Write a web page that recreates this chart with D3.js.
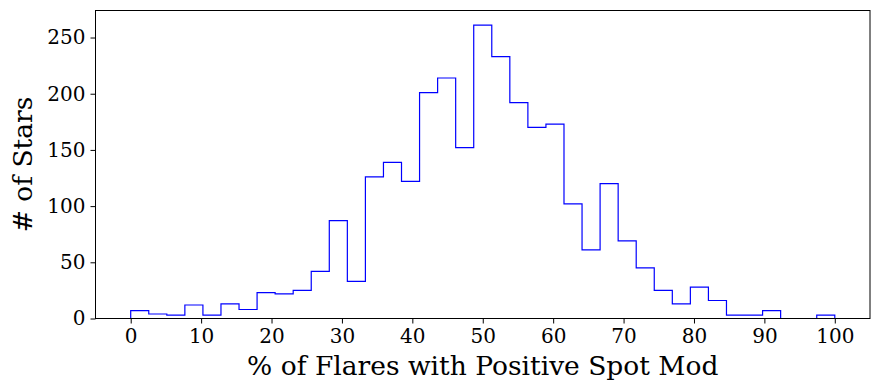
<!DOCTYPE html>
<html><head><meta charset="utf-8">
<script src="https://cdn.jsdelivr.net/npm/d3@7"></script>
<style>body{margin:0;background:#fff}svg{display:block}text{font-family:"DejaVu Serif",serif;fill:#000}</style>
</head><body>
<svg id="c" width="879" height="392"></svg>
<script>
const binStart = 0, binEnd = 100, binCount = 39;
const counts = [7,4,3,12,3,13,8,23,22,25,42,87,33,126,139,122,201,214,152,261,233,192,170,173,102,61,120,69,45,25,13,28,16,3,3,7,0,0,3];
const xTicks = [0,10,20,30,40,50,60,70,80,90,100];
const yTicks = [0,50,100,150,200,250];
const xLabel = "% of Flares with Positive Spot Mod";
const yLabel = "# of Stars";

const svg = d3.select("#c");
const L = 95.5, R = 870, T = 10.5, B = 318.5;
const x = d3.scaleLinear().domain([-5, 105]).range([L, R]);
const yMax = d3.max(counts) * 1.05;
const y = d3.scaleLinear().domain([0, yMax]).range([B, T]);
const w = (binEnd - binStart) / binCount;
const edges = d3.range(binCount + 1).map(i => binStart + i * w);

const pts = [[edges[0], 0]];
counts.forEach((c, i) => { pts.push([edges[i], c]); pts.push([edges[i + 1], c]); });
pts.push([edges[binCount], 0]);
svg.append("path")
  .attr("d", d3.line().x(d => x(d[0])).y(d => y(d[1]))(pts))
  .attr("fill", "none").attr("stroke", "#0000ff").attr("stroke-width", 1.2)
  .attr("stroke-linejoin", "miter");

const fs = 20;
const xa = svg.append("g").attr("transform", `translate(0,${B})`)
  .call(d3.axisBottom(x).tickValues(xTicks).tickSize(5).tickPadding(5).tickFormat(d3.format("d")));
const ya = svg.append("g").attr("transform", `translate(${L},0)`)
  .call(d3.axisLeft(y).tickValues(yTicks).tickSize(5).tickPadding(5).tickFormat(d3.format("d")));
[xa, ya].forEach(a => {
  a.select(".domain").remove();
  a.selectAll("text").attr("font-size", fs).attr("font-family", "DejaVu Serif");
  a.selectAll("line").attr("stroke", "#000").attr("stroke-width", 1);
});

svg.append("rect").attr("x", L).attr("y", T).attr("width", R - L).attr("height", B - T)
  .attr("fill", "none").attr("stroke", "#000").attr("stroke-width", 1);

svg.append("text").attr("x", (L + R) / 2).attr("y", 375).attr("text-anchor", "middle")
  .attr("font-size", 26.5).text(xLabel);
svg.append("text").attr("transform", `translate(32,${(T + B) / 2}) rotate(-90)`)
  .attr("text-anchor", "middle").attr("font-size", 26.5).text(yLabel);
</script>
</body></html>
